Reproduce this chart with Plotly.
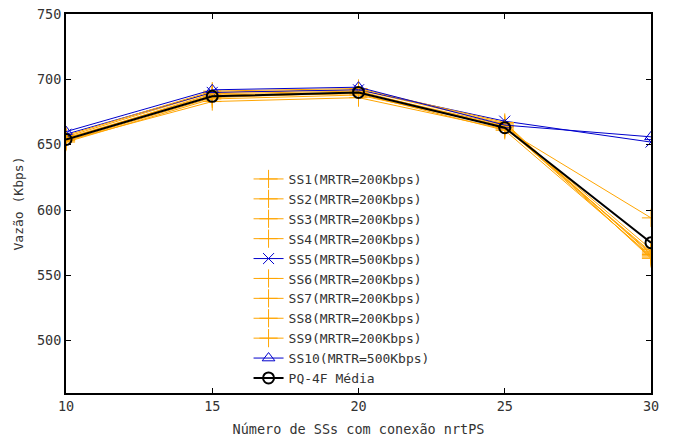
import plotly.graph_objects as go

x_vals = [10, 15, 20, 25, 30]

ss1 = [653, 683, 686, 662, 594]
ss2 = [655, 688, 690, 665, 570]
ss3 = [656, 690, 692, 666, 566]
ss4 = [652, 685, 688, 664, 564]
ss5 = [658, 690, 692, 668, 652]
ss6 = [654, 689, 691, 663, 568]
ss7 = [657, 691, 693, 667, 563]
ss8 = [655, 687, 689, 661, 565]
ss9 = [653, 686, 690, 664, 567]
ss10 = [660, 692, 694, 665, 656]
media = [654, 687, 690, 663, 575]

names = ["SS1(MRTR=200Kbps)", "SS2(MRTR=200Kbps)", "SS3(MRTR=200Kbps)",
         "SS4(MRTR=200Kbps)", "SS5(MRTR=500Kbps)", "SS6(MRTR=200Kbps)",
         "SS7(MRTR=200Kbps)", "SS8(MRTR=200Kbps)", "SS9(MRTR=200Kbps)",
         "SS10(MRTR=500Kbps)", "PQ-4F Média"]
series = [ss1, ss2, ss3, ss4, ss5, ss6, ss7, ss8, ss9, ss10, media]

x_ticks = [10, 15, 20, 25, 30]
y_ticks = [500, 550, 600, 650, 700, 750]

ORANGE = "#FFA500"
BLUE = "#0000CC"
FONT = "DejaVu Sans Mono"
TXT = "#333"

fig = go.Figure()
for i, (nm, ys) in enumerate(zip(names, series)):
    if i == 4:
        color, sym, size, lw = BLUE, "x-thin-open", 11, 1
    elif i == 9:
        color, sym, size, lw = BLUE, "triangle-up-open", 11, 1
    elif i == 10:
        color, sym, size, lw = "black", "circle-open", 11, 2
    else:
        color, sym, size, lw = ORANGE, "cross-thin-open", 13, 1
    fig.add_trace(go.Scatter(
        x=x_vals, y=ys, name=nm, mode="lines+markers",
        line=dict(color=color, width=lw),
        marker=dict(symbol=sym, size=size, color=color,
                    line=dict(color=color, width=lw)),
    ))

fig.update_layout(
    width=675, height=437,
    margin=dict(l=66, r=24, t=14, b=44),
    paper_bgcolor="white", plot_bgcolor="white",
    font=dict(family=FONT, size=13.5, color=TXT),
    showlegend=True,
    legend=dict(x=0.63, xanchor="right", y=0.0, yanchor="bottom",
                bgcolor="rgba(0,0,0,0)", font=dict(family=FONT, size=13, color=TXT),
                tracegroupgap=0, itemwidth=30),
    xaxis=dict(range=[10, 30], tickvals=x_ticks, ticks="inside", ticklen=5,
               tickcolor="black", showline=True, linecolor="black", linewidth=2,
               mirror="ticks", showgrid=False, zeroline=False, automargin=False,
               tickfont=dict(family=FONT, size=13.5, color=TXT),
               title=dict(text="Número de SSs com conexão nrtPS", standoff=12,
                          font=dict(family=FONT, size=13.5, color=TXT))),
    yaxis=dict(range=[460, 750], tickvals=y_ticks, ticks="inside", ticklen=5,
               tickcolor="black", showline=True, linecolor="black", linewidth=2,
               mirror="ticks", showgrid=False, zeroline=False, automargin=False,
               tickfont=dict(family=FONT, size=13.5, color=TXT),
               title=dict(text="Vazão (Kbps)", standoff=10,
                          font=dict(family=FONT, size=13, color=TXT))),
)

fig.write_html("out.html")
